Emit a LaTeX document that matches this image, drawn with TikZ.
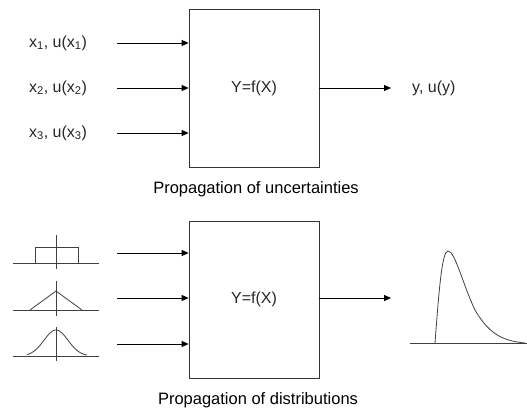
\documentclass[tikz,border=0pt]{standalone}
\usepackage{fontspec}
\setmainfont{Liberation Sans}
\usetikzlibrary{arrows.meta}
\begin{document}
\begin{tikzpicture}[x=1pt,y=-1pt,
  fbox/.style={draw=black!80,line width=0.8pt,minimum width=130pt,minimum height=158pt,inner sep=0pt,font=\fontsize{16}{19}\selectfont,text=black!85},
  lbl/.style={font=\fontsize{16}{19}\selectfont,text=black!85,inner sep=0pt},
  captext/.style={font=\fontsize{16.5}{20}\selectfont,inner sep=0pt},
  arr/.style={-{Triangle[length=7pt,width=6pt]},line width=0.8pt},
  curve/.style={line width=0.8pt,black!75}]
\useasboundingbox (0,0) rectangle (527,411);
% top
\node[fbox] (f1) at (254,88) {Y=f(X)};
\node[lbl] (x1) at (58,43) {x\textsubscript{1}, u(x\textsubscript{1})};
\node[lbl] (x2) at (58,88) {x\textsubscript{2}, u(x\textsubscript{2})};
\node[lbl] (x3) at (58,133) {x\textsubscript{3}, u(x\textsubscript{3})};
\coordinate (s1) at (117,43);
\coordinate (s2) at (117,88);
\coordinate (s3) at (117,133);
\draw[arr] (s1) -- (s1 -| f1.west);
\draw[arr] (s2) -- (s2 -| f1.west);
\draw[arr] (s3) -- (s3 -| f1.west);
\node[lbl,anchor=west] (y) at (412,88) {y, u(y)};
\coordinate (e1) at (391,88);
\draw[arr] (f1.east) -- (e1);
\node[captext] (c1) at (256,189) {Propagation of uncertainties};
% bottom
\node[fbox,minimum height=157pt] (f2) at (254,299.5) {Y=f(X)};
\coordinate (t1) at (117,253);
\coordinate (t2) at (117,298);
\coordinate (t3) at (117,344);
\draw[arr] (t1) -- (t1 -| f2.west);
\draw[arr] (t2) -- (t2 -| f2.west);
\draw[arr] (t3) -- (t3 -| f2.west);
\coordinate (e2) at (391,298);
\draw[arr] (f2.east |- e2) -- (e2);
\node[captext] (c2) at (258,400) {Propagation of distributions};
% uniform
\draw[curve] (13,263) -- (99,263);
\draw[curve] (56,235) -- (56,269);
\draw[curve] (35,263) rectangle (78,247);
% triangular
\draw[curve] (13,310) -- (99,310);
\draw[curve] (56,281) -- (56,316);
\draw[curve] (30,310) -- (56,291) -- (82,310);
% gaussian
\draw[curve] (13,356) -- (99,356);
\draw[curve] (56,327) -- (56,361);
\draw[curve,domain=27:87,samples=60,smooth] plot (\x,{356-26*exp(-((\x-56)/12)^2/2)});
% skewed output
\draw[curve] (410,343) -- (527,343);
\draw[curve] (435,343) .. controls (439,290) and (442,251) .. (448,251)
  .. controls (455,251) and (463,285) .. (475,310)
  .. controls (490,336) and (505,341) .. (525,343);
\end{tikzpicture}
\end{document}
